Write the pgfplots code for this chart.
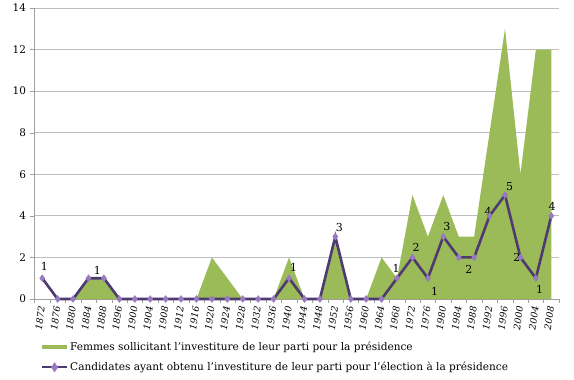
\documentclass[border=0pt]{standalone}
\usepackage{fontspec}
\setmainfont{DejaVu Serif}
\usepackage{pgfplots}
\usepackage{pgfplotstable}
\pgfplotsset{compat=1.18}
\definecolor{areagreen}{RGB}{155,187,89}
\definecolor{linepurple}{RGB}{78,58,112}
\definecolor{markpurple}{RGB}{152,122,192}
\definecolor{gridgray}{RGB}{190,190,190}
\definecolor{axisgray}{RGB}{160,160,160}

\pgfplotstableread{
idx year women cand
0 1872 0 1
1 1876 0 0
2 1880 0 0
3 1884 1 1
4 1888 1 1
5 1896 0 0
6 1900 0 0
7 1904 0 0
8 1908 0 0
9 1912 0 0
10 1916 0 0
11 1920 2 0
12 1924 1 0
13 1928 0 0
14 1932 0 0
15 1936 0 0
16 1940 2 1
17 1944 0 0
18 1948 0 0
19 1952 3 3
20 1956 0 0
21 1960 0 0
22 1964 2 0
23 1968 1 1
24 1972 5 2
25 1976 3 1
26 1980 5 3
27 1984 3 2
28 1988 3 2
29 1992 8 4
30 1996 13 5
31 2000 6 2
32 2004 12 1
33 2008 12 4
}\data

\begin{document}
\begin{tikzpicture}
\begin{axis}[name=ax,
  scale only axis, width=524.5bp, height=291bp,
  xmin=-0.5, xmax=33.5, ymin=0, ymax=14,
  axis x line*=bottom, axis y line*=left,
  axis line style={axisgray, -},
  xtick={0,...,33},
  xticklabels from table={\data}{year},
  minor xtick={-0.5,0.5,...,33.5},
  major x tick style={draw=none},
  minor x tick style={axisgray},
  minor tick length=4bp,
  ytick={0,2,...,14},
  major tick length=4bp,
  tick align=outside,
  y tick style={axisgray},
  ymajorgrids, grid style={gridgray, line width=0.8bp},
  /pgf/number format/assume math mode=true,
  yticklabel style={font=\fontsize{10.5}{12}\selectfont, xshift=-1bp},
  xticklabel style={font=\fontsize{9.3}{11}\selectfont\itshape, rotate=82, anchor=east, yshift=0bp},
  legend style={at={(0.012,-0.14)}, anchor=north west, draw=none, fill=none,
    font=\fontsize{10.6}{12}\selectfont, row sep=6.5bp, cells={anchor=west},
    inner sep=0pt},
  clip=false,
]
\addplot[fill=areagreen, draw=none,
  legend image code/.code={\fill[areagreen] (0bp,-2.2bp) rectangle (25bp,2.2bp);}]
  table[x=idx, y=women] {\data} \closedcycle;
\addlegendentry{Femmes sollicitant l'investiture de leur parti pour la présidence}
\addplot[linepurple, line width=2.6bp, mark=diamond*, mark size=3.4bp,
  mark options={fill=markpurple, draw=markpurple, line width=0.5bp},
  legend image code/.code={\draw[linepurple, line width=2.2bp] (0bp,0bp) -- (25bp,0bp);
     \fill[markpurple] (12.5bp,0bp) ++(0,2.8bp) -- ++(1.9bp,-2.8bp) -- ++(-1.9bp,-2.8bp) -- ++(-1.9bp,2.8bp) -- cycle;}]
  table[x=idx, y=cand] {\data};
\addlegendentry{Candidates ayant obtenu l'investiture de leur parti pour l'élection à la présidence}
\begin{scope}[every node/.style={font=\fontsize{11}{13}\selectfont, inner sep=0pt}]
\node at (axis cs:0.14,1.55) {1};
\node at (axis cs:3.57,1.39) {1};
\node at (axis cs:16.3,1.52) {1};
\node at (axis cs:19.27,3.45) {3};
\node at (axis cs:22.94,1.48) {1};
\node at (axis cs:24.24,2.47) {2};
\node at (axis cs:25.43,0.35) {1};
\node at (axis cs:26.23,3.48) {3};
\node at (axis cs:27.65,1.43) {2};
\node at (axis cs:28.91,4.22) {4};
\node at (axis cs:30.29,5.43) {5};
\node at (axis cs:30.77,1.99) {2};
\node at (axis cs:32.24,0.47) {1};
\node at (axis cs:33.06,4.44) {4};
\end{scope}
\end{axis}
\pgfresetboundingbox
\path ([xshift=-34.5bp,yshift=-81bp]ax.south west) rectangle ([xshift=15bp,yshift=8bp]ax.north east);
\end{tikzpicture}
\end{document}
